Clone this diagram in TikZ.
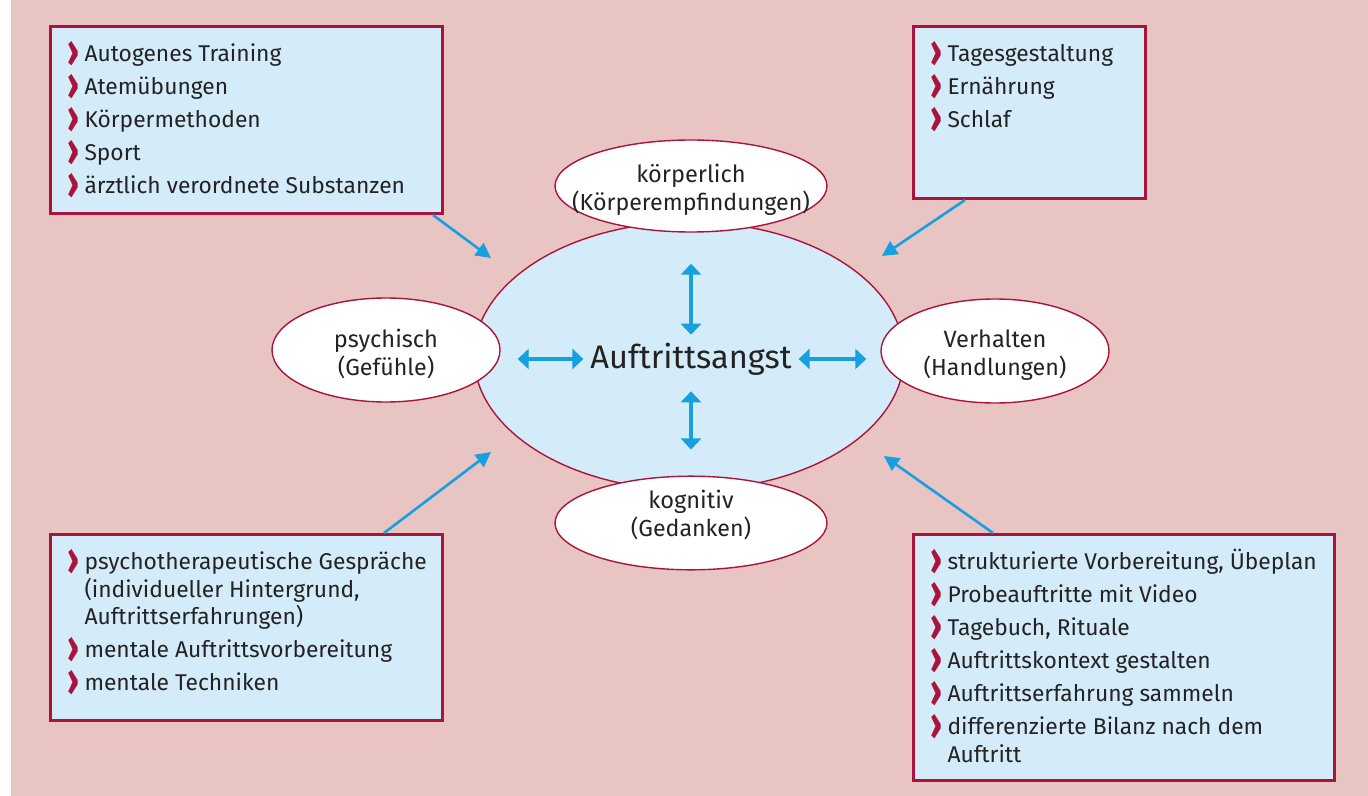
\documentclass[tikz,border=0pt]{standalone}
\usepackage{fontspec}
\setmainfont{Fira Sans}
\usetikzlibrary{arrows.meta,calc,shapes.geometric}

\definecolor{bgpink}{RGB}{232,197,195}
\definecolor{boxblue}{RGB}{212,235,250}
\definecolor{crimson}{RGB}{170,20,60}
\definecolor{arrowblue}{RGB}{22,160,224}
\definecolor{textgray}{RGB}{35,35,35}

% list helpers for the four boxes
\newcommand{\bul}{\smash{\raisebox{-2.6pt}{\scalebox{1.1}[1.5]{\bfseries\fontsize{15}{12}\selectfont\color{crimson}›}}}}
\newcommand{\itm}[1]{\par\hangindent=8.5pt\hangafter=1\makebox[8.5pt][l]{\bul}#1}
\newcommand{\firstline}{\rule{0pt}{17.5pt}}
\newcommand{\boxlist}[3]{\parbox[t][#2][t]{#1}{\raggedright\setlength{\leftskip}{8.5pt}\setlength{\parskip}{2.75pt}#3}}
\newcommand{\subline}[1]{{\fontsize{11.6}{14}\selectfont #1}}

\tikzset{
  listbox/.style={draw=crimson, line width=1.5pt, fill=boxblue, inner sep=0pt,
    anchor=north west, text=textgray, font=\fontsize{11.4}{13.75}\selectfont},
  ellnode/.style={ellipse, draw=crimson, line width=0.7pt, fill=white, inner sep=0pt,
    align=center, text=textgray, font=\fontsize{11.8}{14}\selectfont},
  biarrow/.style={{Triangle[length=5.5pt,width=10pt]}-{Triangle[length=5.5pt,width=10pt]},
    arrowblue, line width=1.6pt},
  feed/.style={-{Triangle[length=7.5pt,width=7.5pt]}, arrowblue, line width=1.3pt}
}

\begin{document}
\begin{tikzpicture}[x=0.5pt,y=-0.5pt]
  \useasboundingbox (0,0) rectangle (1368,796);
  % Background
  \fill[bgpink] (11,0) rectangle (1368,796);

  % Central ellipse and the four aspects
  \node[ellnode, fill=boxblue, minimum width=215pt, minimum height=134pt] (core) at (689,356) {};
  \node[ellnode, minimum width=136pt, minimum height=46pt] (koerper) at (691,186)
    {\rule{0pt}{12.5pt}\makebox[0pt]{körperlich}\\\makebox[0pt]{\subline{(Körperempfindungen)}}};
  \node[ellnode, minimum width=136pt, minimum height=46pt] (kognitiv) at (691,523)
    {\makebox[0pt]{kognitiv}\\\makebox[0pt]{\subline{(Gedanken)}}\rule[-9.9pt]{0pt}{9.9pt}};
  \node[ellnode, minimum width=114pt, minimum height=52pt] (psych) at (386,350)
    {\rule{0pt}{13.2pt}\makebox[0pt]{psychisch}\\\makebox[0pt]{\subline{(Gefühle)}}};
  \node[ellnode, minimum width=114pt, minimum height=52pt] (verhalten) at (995,351)
    {\rule{0pt}{13.2pt}\makebox[0pt]{Verhalten}\\\makebox[0pt]{\subline{(Handlungen)}}};
  \node[text=textgray, font=\fontsize{16.3}{19}\selectfont] (angst) at (691,359) {Auftrittsangst};

  % Interactions
  \draw[biarrow, shorten <=15.5pt, shorten >=0.5pt] (koerper.south) -- (angst.north);
  \draw[biarrow, shorten <=4.5pt, shorten >=13pt] (angst.south) -- (kognitiv.north);
  \draw[biarrow, shorten <=8.5pt] (angst.west -| psych.east) -- (angst.west);
  \draw[biarrow, shorten >=7pt] (angst.east) -- (angst.east -| verhalten.west);

  % Boxes with measures
  \node[listbox] (boxTL) at (49,25) {\boxlist{196pt}{93.5pt}{%
    \itm{\firstline Autogenes Training}
    \itm{Atemübungen}
    \itm{Körpermethoden}
    \itm{Sport}
    \itm{ärztlich verordnete Substanzen}}};
  \node[listbox] (boxTR) at (912,25) {\boxlist{116pt}{86pt}{%
    \itm{\firstline Tagesgestaltung}
    \itm{Ernährung}
    \itm{Schlaf}}};
  \node[listbox] (boxBL) at (49,533) {\boxlist{196pt}{93pt}{%
    \itm{\firstline psychotherapeutische Gespräche\newline (individueller Hintergrund,\newline Auftrittserfahrungen)}
    \itm{mentale Auftrittsvorbereitung}
    \itm{mentale Techniken}}};
  \node[listbox] (boxBR) at (912,533) {\boxlist{210.5pt}{123pt}{%
    \itm{\firstline strukturierte Vorbereitung, Übeplan}
    \itm{Probeauftritte mit Video}
    \itm{Tagebuch, Rituale}
    \itm{Auftrittskontext gestalten}
    \itm{Auftrittserfahrung sammeln}
    \itm{differenzierte Bilanz nach dem\newline Auftritt}}};

  % Arrows from the boxes
  \coordinate (tipTL) at (491,258);
  \coordinate (tipTR) at (882,256);
  \coordinate (tipBL) at (491,452);
  \coordinate (tipBR) at (884,456);
  \draw[feed] ($(boxTL.south east)+(-11,0)$) -- (tipTL);
  \draw[feed] ($(boxTR.south west)+(53,0)$) -- (tipTR);
  \draw[feed] ($(boxBL.north east)+(-60,0)$) -- (tipBL);
  \draw[feed] ($(boxBR.north west)+(81,0)$) -- (tipBR);
\end{tikzpicture}
\end{document}
